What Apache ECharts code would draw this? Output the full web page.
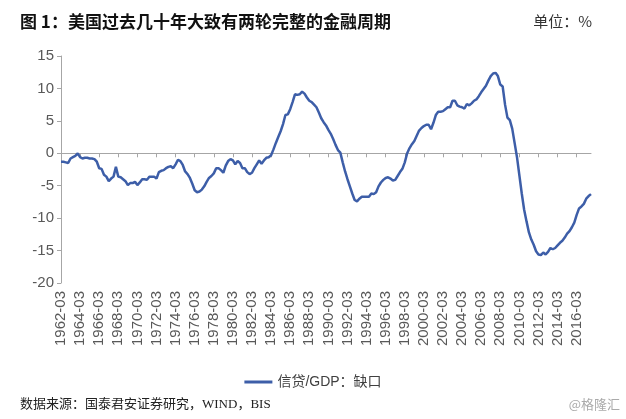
<!DOCTYPE html>
<html><head><meta charset="utf-8">
<script src="https://cdn.jsdelivr.net/npm/echarts@6/dist/echarts.min.js"></script>
<style>html,body{margin:0;padding:0;background:#fff}#c{width:626px;height:419px}</style>
</head><body><div id="c"></div>
<script>
// Quarterly categories 1962-03 .. 2017-09
const startYear = 1962;
const months = ['03','06','09','12'];
const categories = [];
for (let y = startYear; y <= 2017; y++) {
  for (let q = 0; q < 4; q++) {
    if (y === 2017 && q > 2) break;
    categories.push(y + '-' + months[q]);
  }
}
// 信贷/GDP：缺口 (%), quarterly values
const creditGap = [
  -1.3,-1.3,-1.4,-1.5,  -0.8,-0.6,-0.4,0.0,  -0.6,-0.8,-0.7,-0.7,  -0.8,-0.8,-0.9,-1.3,
  -2.3,-2.4,-3.3,-3.6,  -4.3,-3.9,-3.6,-2.1,  -3.6,-3.7,-4.0,-4.3,  -4.9,-4.6,-4.6,-4.4,
  -4.9,-4.5,-4.0,-4.0,  -4.1,-3.6,-3.6,-3.6,  -3.9,-2.9,-2.7,-2.6,  -2.3,-2.1,-2.0,-2.3,
  -1.7,-1.0,-1.2,-1.8,  -2.8,-3.2,-3.8,-4.7,  -5.7,-6.0,-5.9,-5.6,  -5.1,-4.4,-3.8,-3.5,
  -3.1,-2.3,-2.3,-2.6,  -3.0,-1.9,-1.2,-0.9,  -1.1,-1.7,-1.2,-1.5,  -2.3,-2.3,-2.9,-3.2,
  -3.0,-2.3,-1.7,-1.1,  -1.6,-1.1,-0.7,-0.6,  -0.3,0.6,1.6,2.5,  3.4,4.5,5.9,6.0,
  6.8,7.9,9.1,9.0,  9.1,9.5,9.2,8.6,  8.1,7.9,7.5,7.1,  6.3,5.4,4.8,4.3,
  3.6,3.0,2.2,1.3,  0.5,0.1,-1.4,-2.8,  -4.0,-5.1,-6.2,-7.2,  -7.4,-7.0,-6.7,-6.7,
  -6.7,-6.7,-6.2,-6.3,  -6.0,-5.1,-4.5,-4.1,  -3.8,-3.7,-3.9,-4.2,  -4.1,-3.5,-2.9,-2.4,
  -1.4,0.0,0.8,1.4,  1.9,2.7,3.5,3.9,  4.2,4.4,4.4,3.7,  4.7,5.9,6.4,6.4,
  6.5,6.8,7.1,7.1,  8.1,8.1,7.4,7.2,  7.1,6.9,7.6,7.4,  7.7,8.1,8.3,8.8,
  9.4,9.9,10.4,11.2,  11.9,12.3,12.4,11.9,  10.6,10.3,7.5,5.5,  5.1,3.8,1.6,-0.6,
  -3.4,-6.2,-8.7,-10.5,  -12.2,-13.3,-14.1,-15.1,  -15.6,-15.7,-15.3,-15.6,  -15.2,-14.6,-14.8,-14.6,
  -14.2,-13.8,-13.5,-13.0,  -12.4,-12.0,-11.4,-10.7,  -9.5,-8.5,-8.2,-7.8,  -7.0,-6.6,-6.3
];
const yTicks = { min: -20, max: 15, interval: 5 };
const seriesName = '信贷/GDP：缺口';
const titleText = '图 1：美国过去几十年大致有两轮完整的金融周期';
const unitText = '单位：%';
const sourceText = '数据来源：国泰君安证券研究，WIND，BIS';
const watermark = '@格隆汇';

const chart = echarts.init(document.getElementById('c'));
chart.setOption({
  animation: false,
  backgroundColor: '#fff',
  textStyle: { fontFamily: 'Arial, "Liberation Sans", "Noto Sans CJK SC", sans-serif' },
  graphic: [
    { type: 'text', left: 20, top: 13, style: { text: titleText, fontSize: 17, fontWeight: 'bold', fill: '#111', fontFamily: '"Noto Sans CJK SC", sans-serif' } },
    { type: 'text', right: 34, top: 14, style: { text: unitText, fontSize: 15, fill: '#333', fontFamily: '"Noto Sans CJK SC", sans-serif' } },
    { type: 'text', left: 20, top: 398, style: { text: sourceText, fontSize: 13, fill: '#222', fontFamily: '"Liberation Serif", "Noto Sans CJK SC", serif' } },
    { type: 'text', right: 6, top: 398, style: { text: watermark, fontSize: 13, fill: '#aaa', fontFamily: '"Noto Sans CJK SC", sans-serif' } }
  ],
  legend: {
    data: [seriesName], bottom: 25, left: 'center',
    itemWidth: 28, itemHeight: 3, icon: 'rect',
    textStyle: { fontSize: 14, color: '#404040', fontFamily: 'Arial, "Noto Sans CJK SC", sans-serif' }
  },
  grid: { left: 61, right: 35, top: 56, bottom: 136 },
  xAxis: [
    {
      type: 'category', data: categories, boundaryGap: false, position: 'bottom',
      axisLine: { show: false, onZero: false }, axisTick: { show: false },
      axisLabel: { interval: 7, rotate: 90, fontSize: 15, color: '#595959', margin: 8, fontFamily: 'Arial, "Liberation Sans", sans-serif' }
    },
    {
      type: 'category', data: categories, boundaryGap: false, position: 'bottom',
      axisLine: { show: true, onZero: true, lineStyle: { color: '#a6a6a6', width: 1 } },
      axisTick: { show: true, interval: 7, length: 4, inside: false, lineStyle: { color: '#a6a6a6' } },
      axisLabel: { show: false }
    }
  ],
  yAxis: {
    type: 'value', min: yTicks.min, max: yTicks.max, interval: yTicks.interval,
    splitLine: { show: false },
    axisLine: { show: true, lineStyle: { color: '#a6a6a6' } },
    axisTick: { show: true, length: 4, lineStyle: { color: '#a6a6a6' } },
    axisLabel: { fontSize: 15, color: '#595959', margin: 7, fontFamily: 'Arial, "Liberation Sans", sans-serif' }
  },
  series: [{
    name: seriesName, type: 'line', data: creditGap, xAxisIndex: 1,
    symbol: 'none', smooth: false,
    lineStyle: { color: '#3d5ea8', width: 2.5 }, itemStyle: { color: '#3d5ea8' }
  }]
});
</script></body></html>
